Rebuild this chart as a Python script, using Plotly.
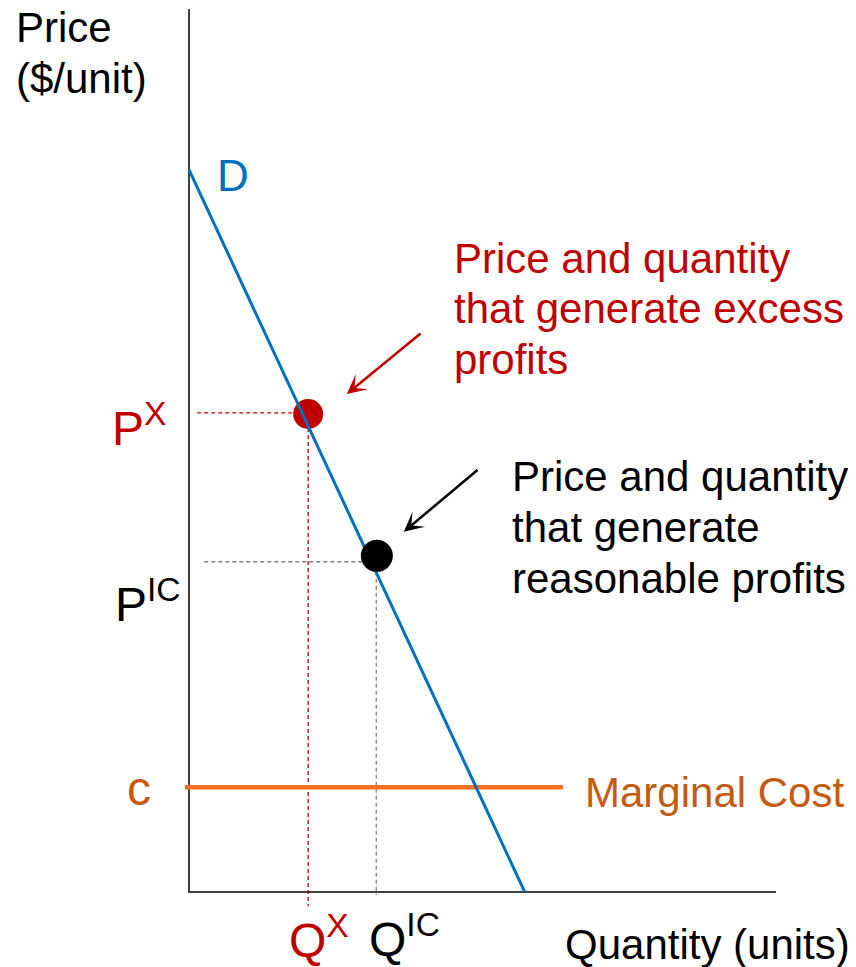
import plotly.graph_objects as go

# Demand curve end points (quantity, price)
demand_q = [0.0, 5.72]
demand_p = [12.27, 0.0]

# Marginal cost (flat at c)
mc_q = [-0.07, 6.37]
mc_p = [1.78, 1.78]

# Excess-profit point and reasonable-profit point
excess_q = [2.03]
excess_p = [8.12]
fair_q = [3.20]
fair_p = [5.71]

# Guide line levels
excess_guide_p = 8.14
excess_guide_q = 2.03
fair_guide_p = 5.61
fair_guide_q = 3.19

# Axis extents
axis_q_max = 10.0
axis_p_max = 15.0

# The page body has an 8px margin, so the figure is drawn 8px smaller
PAGE_W, PAGE_H = 856, 967
OFF = 8
W, H = PAGE_W - OFF, PAGE_H - OFF
FONT = "Liberation Sans, Arial, sans-serif"
RED = "#C00000"
BLUE = "#0070C0"
ORANGE = "#F36F21"
BROWN = "#C55A11"
GREY = "#808080"


def px(x, y):
    """Convert a pixel position on the page to paper coordinates."""
    return (x - OFF) / W, 1 - (y - OFF) / H


fig = go.Figure()

# Axes drawn as lines
fig.add_trace(go.Scatter(x=[0, 0, axis_q_max], y=[axis_p_max, 0, 0], mode="lines",
                         line=dict(color="#404040", width=2)))

# Dashed guides
fig.add_trace(go.Scatter(x=[0.14, excess_guide_q, excess_guide_q], y=[excess_guide_p, excess_guide_p, -0.24],
                         mode="lines", line=dict(color=RED, width=1.3, dash="4px,3px")))
fig.add_trace(go.Scatter(x=[0.26, fair_guide_q, fair_guide_q], y=[fair_guide_p, fair_guide_p, -0.05],
                         mode="lines", line=dict(color=GREY, width=1.3, dash="4px,3px")))

# Marginal cost
fig.add_trace(go.Scatter(x=mc_q, y=mc_p, mode="lines", line=dict(color=ORANGE, width=4.5)))

# Red point sits under the demand line
fig.add_trace(go.Scatter(x=excess_q, y=excess_p, mode="markers",
                         marker=dict(color=RED, size=30, line=dict(width=0))))

# Demand
fig.add_trace(go.Scatter(x=demand_q, y=demand_p, mode="lines", line=dict(color=BLUE, width=3)))

# Black point on top
fig.add_trace(go.Scatter(x=fair_q, y=fair_p, mode="markers",
                         marker=dict(color="black", size=32, line=dict(width=0))))

# Arrows
arrows = [
    dict(x=2.69, y=8.46, ax=3.97, ay=9.51, color=RED),
    dict(x=3.66, y=6.12, ax=4.94, ay=7.19, color="black"),
]
for a in arrows:
    fig.add_annotation(x=a["x"], y=a["y"], ax=a["ax"], ay=a["ay"], xref="x", yref="y",
                       axref="x", ayref="y", text="", showarrow=True, arrowhead=3,
                       arrowsize=1.3, arrowwidth=2.5, arrowcolor=a["color"], standoff=0)

# Text labels: (text, left x px, centre y px, size, colour)
labels = [
    ("Price", 14, 28, 42, "black"),
    ("($/unit)", 14, 78, 42, "black"),
    ("D", 215, 175, 44, BLUE),
    ("Price and quantity", 452, 258, 42, RED),
    ("that generate excess", 452, 309, 42, RED),
    ("profits", 452, 359, 42, RED),
    ("Price and quantity", 510, 476, 42, "black"),
    ("that generate", 510, 527, 42, "black"),
    ("reasonable profits", 510, 578, 42, "black"),
    ("P<sup>X</sup>", 110, 425, 48, RED),
    ("P<sup>IC</sup>", 113, 601, 48, "black"),
    ("c", 125, 788, 48, BROWN),
    ("Marginal Cost", 583, 792, 42, BROWN),
    ("Q<sup>X</sup>", 287, 937, 48, RED),
    ("Q<sup>IC</sup>", 367, 936, 48, "black"),
    ("Quantity (units)", 563, 944, 42, "black"),
]
for text, lx, cy, size, color in labels:
    x, y = px(lx, cy)
    fig.add_annotation(x=x, y=y, xref="paper", yref="paper", text=text, showarrow=False,
                       xanchor="left", yanchor="middle", align="left",
                       font=dict(family=FONT, size=size, color=color))

# Plot area covers the whole figure so data units map straight to pixels
q_per_px = 10.0 / 587
p_per_px = 15.0 / 883
x0 = 189 - OFF
y0 = 892 - OFF
fig.update_xaxes(range=[-x0 * q_per_px, (W - x0) * q_per_px], visible=False)
fig.update_yaxes(range=[-(H - y0) * p_per_px, y0 * p_per_px], visible=False)

fig.update_layout(
    width=W,
    height=H,
    margin=dict(l=0, r=0, t=0, b=0),
    paper_bgcolor="white",
    plot_bgcolor="white",
    showlegend=False,
    font=dict(family=FONT),
)

fig.write_html("out.html")
